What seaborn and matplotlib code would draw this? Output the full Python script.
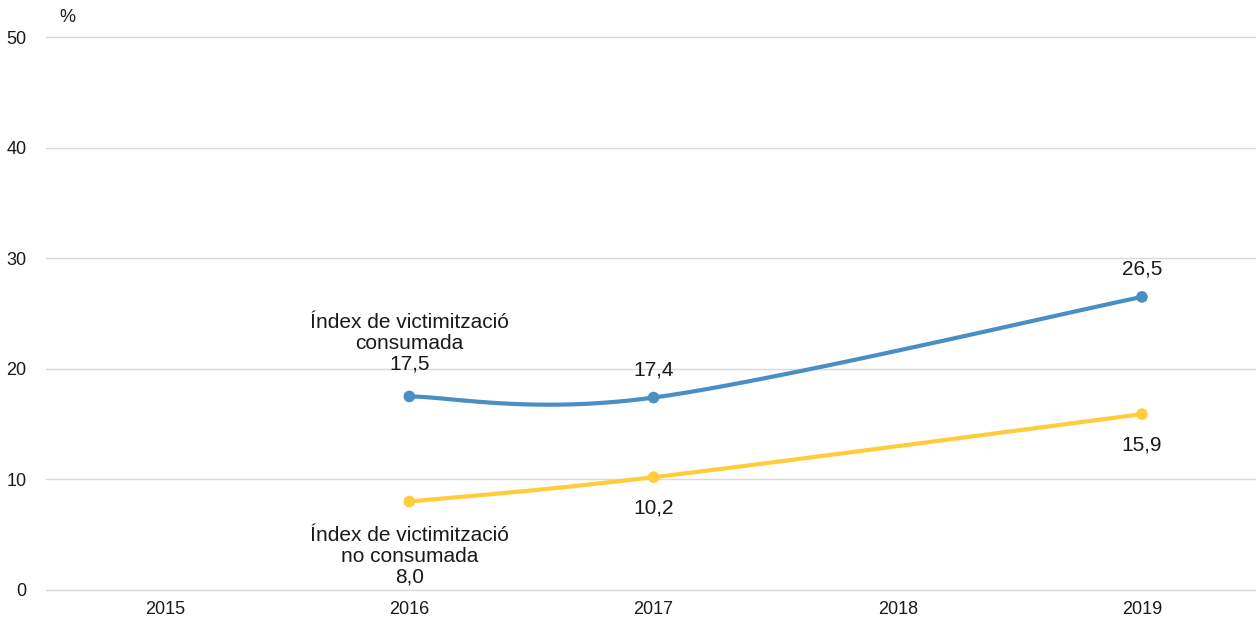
import numpy as np
import pandas as pd
import matplotlib
matplotlib.use("Agg")
import matplotlib.pyplot as plt
import seaborn as sns

# ---- data ----
years = ["2015", "2016", "2017", "2018", "2019"]
consumada = [None, 17.5, 17.4, None, 26.5]
no_consumada = [None, 8.0, 10.2, None, 15.9]
series_names = ["Índex de victimització\nconsumada", "Índex de victimització\nno consumada"]
y_ticks = [0, 10, 20, 30, 40, 50]
y_unit = "%"

BLUE = "#4a8fc4"
YELLOW = "#ffcd3c"

sns.set_theme(style="white")
plt.rcParams['font.family'] = ['Liberation Sans', 'DejaVu Sans']

fig = plt.figure(figsize=(12.56, 6.2), dpi=100)
ax = fig.add_axes([46/1256, 30/620, 1210/1256, 553/620])

XS, YS = 244.0, 553.0/50  # approx screen scale for smoothing (px per unit)


def smooth(xs, ys, n=60):
    """Excel-like smoothing (Catmull-Rom Bezier) computed in screen space."""
    P = np.column_stack([np.array(xs) * XS, np.array(ys) * YS])
    out = []
    for i in range(len(P) - 1):
        p0 = P[i - 1] if i > 0 else P[i]
        p1, p2 = P[i], P[i + 1]
        p3 = P[i + 2] if i + 2 < len(P) else P[i + 1]
        c1 = p1 + (p2 - p0) / 6
        c2 = p2 - (p3 - p1) / 6
        t = np.linspace(0, 1, n)[:, None]
        seg = (1 - t) ** 3 * p1 + 3 * (1 - t) ** 2 * t * c1 + 3 * (1 - t) * t ** 2 * c2 + t ** 3 * p2
        out.append(seg if i == 0 else seg[1:])
    B = np.vstack(out)
    return B[:, 0] / XS, B[:, 1] / YS


def draw(values, color):
    idx = [i for i, v in enumerate(values) if v is not None]
    vals = [values[i] for i in idx]
    sx, sy = smooth(idx, vals)
    df = pd.DataFrame({"x": sx, "y": sy})
    sns.lineplot(data=df, x="x", y="y", sort=False, color=color, lw=3.0, ax=ax,
                 solid_capstyle="round")
    pts = pd.DataFrame({"x": idx, "y": vals})
    sns.scatterplot(data=pts, x="x", y="y", color=color, s=70, edgecolor="none", ax=ax, zorder=5)
    return idx, vals


def fmt(v):
    return f"{v:.1f}".replace(".", ",")


bi, bv = draw(consumada, BLUE)
yi, yv = draw(no_consumada, YELLOW)

# annotations: blue above, yellow below
for k, (i, v) in enumerate(zip(bi, bv)):
    txt, off = fmt(v), 28
    if k == 0:
        txt, off = series_names[0] + "\n" + txt, 53
    ax.annotate(txt, (i, v), xytext=(0, off), textcoords="offset pixels",
                ha="center", va="center", fontsize=15, color="#1a1a1a", linespacing=1.12)
for k, (i, v) in enumerate(zip(yi, yv)):
    txt, off = fmt(v), -31
    if k == 0:
        txt, off = series_names[1] + "\n" + txt, -55
    ax.annotate(txt, (i, v), xytext=(0, off), textcoords="offset pixels",
                ha="center", va="center", fontsize=15, color="#1a1a1a", linespacing=1.12)

ax.set_xlim(-0.488, 4.467)
ax.set_ylim(0, 50)
ax.set_xticks(range(len(years)))
ax.set_xticklabels(years)
ax.set_yticks(y_ticks)
ax.set_yticklabels([str(t) for t in y_ticks])
ax.tick_params(axis="both", length=0, labelsize=13, colors="#1a1a1a")
ax.tick_params(axis="y", pad=14)
ax.tick_params(axis="x", pad=8)
ax.set_xlabel("")
ax.set_ylabel("")
ax.grid(axis="y", color="#d9d9d9", lw=1.0)
ax.grid(axis="x", visible=False)
for gl in ax.get_ygridlines():
    gl.set_clip_on(False)
ax.set_axisbelow(True)
for s in ax.spines.values():
    s.set_visible(False)

fig.text(67/1256, 1 - 18/620, y_unit, ha="center", va="center", fontsize=13, color="#1a1a1a")

fig.savefig("out.png", dpi=100)
